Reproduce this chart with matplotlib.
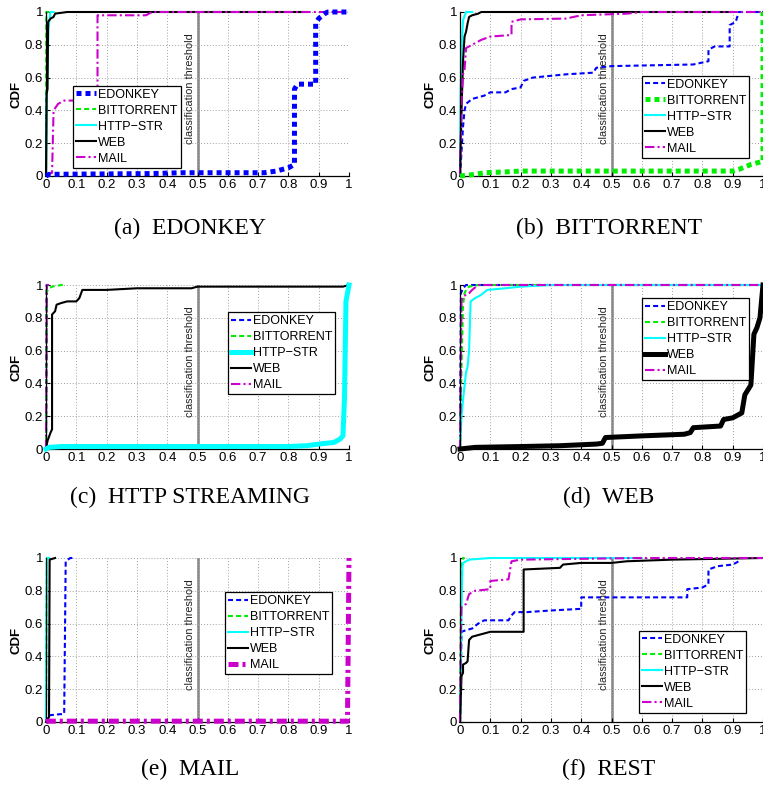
import matplotlib
matplotlib.use("Agg")
import matplotlib.pyplot as plt

# Nomes das classes e títulos dos painéis
classes = ["EDONKEY", "BITTORRENT", "HTTP\u2212STR", "WEB", "MAIL"]
legendas_painel = ["(a)  EDONKEY", "(b)  BITTORRENT", "(c)  HTTP STREAMING",
                   "(d)  WEB", "(e)  MAIL", "(f)  REST"]
# classe destacada (linha grossa) em cada painel; None = nenhuma
destaque = [0, 1, 2, 3, 4, None]

x_ticks = [0, 0.1, 0.2, 0.3, 0.4, 0.5, 0.6, 0.7, 0.8, 0.9, 1.0]
x_tick_labels = ["0", "0.1", "0.2", "0.3", "0.4", "0.5", "0.6", "0.7", "0.8", "0.9", "1"]
y_ticks = [0, 0.2, 0.4, 0.6, 0.8, 1.0]
y_tick_labels = ["0", "0.2", "0.4", "0.6", "0.8", "1"]
limiar = 0.5

# (a) EDONKEY -- pontos (x, CDF)
painel_a = {
    "EDONKEY": ([0, 0.01, 0.35, 0.45, 0.72, 0.76, 0.80, 0.82, 0.82, 0.83, 0.89, 0.89, 0.90, 0.92, 0.93, 1.0],
                [0, 0.01, 0.015, 0.02, 0.02, 0.03, 0.05, 0.07, 0.53, 0.56, 0.56, 0.93, 0.96, 0.99, 1.0, 1.0]),
    "BITTORRENT": ([0, 0.001, 0.01], [0, 1.0, 1.0]),
    "HTTP-STR": ([0, 0.003, 0.008, 0.015, 0.025], [0, 0.5, 0.9, 1.0, 1.0]),
    "WEB": ([0, 0.002, 0.005, 0.007, 0.015, 0.025, 0.03, 0.07, 0.85],
            [0, 0.5, 0.53, 0.94, 0.96, 0.97, 0.99, 1.0, 1.0]),
    "MAIL": ([0, 0.02, 0.025, 0.04, 0.06, 0.17, 0.17, 0.33, 0.35, 1.0],
             [0, 0.02, 0.40, 0.44, 0.46, 0.46, 0.98, 0.98, 1.0, 1.0]),
}

# (b) BITTORRENT
painel_b = {
    "EDONKEY": ([0, 0.005, 0.01, 0.015, 0.02, 0.04, 0.08, 0.10, 0.15, 0.17, 0.20, 0.21, 0.24, 0.35,
                 0.44, 0.45, 0.50, 0.77, 0.82, 0.82, 0.84, 0.89, 0.89, 0.91, 0.92, 1.0],
                [0, 0.15, 0.30, 0.40, 0.44, 0.47, 0.49, 0.51, 0.51, 0.53, 0.54, 0.58, 0.60, 0.62,
                 0.63, 0.66, 0.67, 0.68, 0.70, 0.77, 0.79, 0.79, 0.92, 0.94, 1.0, 1.0]),
    "BITTORRENT": ([0, 0.05, 0.08, 0.15, 0.20, 0.90, 0.92, 0.96, 1.0, 1.0],
                   [0, 0.01, 0.02, 0.025, 0.03, 0.03, 0.04, 0.07, 0.09, 1.0]),
    "HTTP-STR": ([0, 0.002, 0.006, 0.01, 0.02, 0.04], [0, 0.5, 0.8, 0.95, 1.0, 1.0]),
    "WEB": ([0, 0.005, 0.01, 0.015, 0.02, 0.025, 0.03, 0.04, 0.06, 0.07, 0.90],
            [0, 0.40, 0.70, 0.85, 0.88, 0.93, 0.97, 0.98, 0.99, 1.0, 1.0]),
    "MAIL": ([0, 0.005, 0.01, 0.015, 0.02, 0.04, 0.07, 0.10, 0.17, 0.17, 0.20, 0.35, 0.40, 0.55, 0.60, 1.0],
             [0, 0.45, 0.62, 0.65, 0.78, 0.80, 0.83, 0.85, 0.86, 0.94, 0.955, 0.96, 0.98, 0.99, 1.0, 1.0]),
}

# (c) HTTP STREAMING
painel_c = {
    "EDONKEY": ([0, 0.002, 0.01], [0, 1.0, 1.0]),
    "BITTORRENT": ([0, 0.003, 0.01, 0.02, 0.05, 0.06], [0, 0.96, 0.98, 0.99, 1.0, 1.0]),
    "HTTP-STR": ([0, 0.01, 0.05, 0.80, 0.86, 0.90, 0.95, 0.97, 0.98, 0.985, 0.99, 0.995, 1.0],
                 [0, 0.01, 0.015, 0.015, 0.02, 0.03, 0.04, 0.06, 0.08, 0.30, 0.90, 0.95, 1.0]),
    "WEB": ([0, 0.005, 0.015, 0.02, 0.02, 0.03, 0.035, 0.05, 0.07, 0.10, 0.11, 0.12, 0.20, 0.30,
             0.48, 0.50, 0.90, 0.98, 1.0],
            [0, 0.05, 0.10, 0.12, 0.82, 0.84, 0.88, 0.89, 0.90, 0.90, 0.92, 0.97, 0.97, 0.98,
             0.98, 0.99, 0.99, 0.99, 1.0]),
    "MAIL": ([0, 0.003, 0.01], [0, 1.0, 1.0]),
}

# (d) WEB
painel_d = {
    "EDONKEY": ([0, 0.003, 0.01, 0.02, 1.0], [0, 0.95, 0.98, 1.0, 1.0]),
    "BITTORRENT": ([0, 0.005, 0.01, 0.015, 0.02, 0.03, 0.06, 1.0],
                   [0, 0.50, 0.88, 0.95, 0.97, 0.99, 1.0, 1.0]),
    "HTTP-STR": ([0, 0.005, 0.01, 0.02, 0.025, 0.03, 0.035, 0.05, 0.07, 0.09, 0.15, 0.20, 0.30, 1.0],
                 [0, 0.20, 0.30, 0.47, 0.50, 0.60, 0.90, 0.92, 0.94, 0.97, 0.98, 0.99, 1.0, 1.0]),
    "WEB": ([0, 0.05, 0.20, 0.33, 0.45, 0.47, 0.48, 0.60, 0.74, 0.76, 0.77, 0.86, 0.87, 0.90,
             0.93, 0.94, 0.95, 0.96, 0.97, 0.98, 0.99, 1.0],
            [0, 0.01, 0.015, 0.02, 0.03, 0.035, 0.07, 0.08, 0.09, 0.10, 0.13, 0.14, 0.18, 0.19,
             0.22, 0.33, 0.36, 0.39, 0.70, 0.74, 0.80, 1.0]),
    "MAIL": ([0, 0.005, 0.01, 0.03, 0.04, 0.06, 1.0], [0, 0.90, 0.93, 0.95, 0.97, 1.0, 1.0]),
}

# (e) MAIL
painel_e = {
    "EDONKEY": ([0, 0.005, 0.06, 0.065, 0.08, 0.09], [0, 0.04, 0.05, 0.98, 1.0, 1.0]),
    "BITTORRENT": ([0, 0.003, 0.01], [0, 1.0, 1.0]),
    "HTTP-STR": ([0, 0.003, 0.01], [0, 1.0, 1.0]),
    "WEB": ([0, 0.01, 0.012, 0.03], [0, 0.03, 0.99, 1.0]),
    "MAIL": ([0, 0.005, 0.995, 1.0], [0, 0.005, 0.005, 1.0]),
}

# (f) REST
painel_f = {
    "EDONKEY": ([0, 0.005, 0.02, 0.04, 0.06, 0.08, 0.16, 0.17, 0.18, 0.22, 0.30, 0.40, 0.40, 0.75,
                 0.75, 0.80, 0.82, 0.82, 0.85, 0.90, 0.92],
                [0, 0.55, 0.56, 0.57, 0.60, 0.62, 0.62, 0.65, 0.67, 0.67, 0.68, 0.69, 0.76, 0.76,
                 0.81, 0.82, 0.84, 0.93, 0.95, 0.96, 0.98]),
    "BITTORRENT": ([0, 0.003, 0.005, 0.01, 0.015], [0, 0.70, 0.95, 1.0, 1.0]),
    "HTTP-STR": ([0, 0.003, 0.005, 0.008, 0.01, 0.03, 0.10, 0.60], [0, 0.30, 0.70, 0.95, 0.97, 0.99, 1.0, 1.0]),
    "WEB": ([0, 0.005, 0.01, 0.01, 0.02, 0.025, 0.03, 0.04, 0.06, 0.10, 0.21, 0.21, 0.33, 0.34,
             0.40, 0.50, 0.55, 0.70, 0.85, 1.0],
            [0, 0.28, 0.30, 0.35, 0.36, 0.37, 0.50, 0.52, 0.53, 0.55, 0.55, 0.93, 0.94, 0.96,
             0.97, 0.97, 0.98, 0.99, 0.995, 1.0]),
    "MAIL": ([0, 0.003, 0.005, 0.02, 0.03, 0.05, 0.10, 0.10, 0.16, 0.17, 0.20, 0.60, 1.0],
             [0, 0.55, 0.70, 0.72, 0.78, 0.80, 0.81, 0.86, 0.87, 0.98, 0.99, 1.0, 1.0]),
}

paineis = [painel_a, painel_b, painel_c, painel_d, painel_e, painel_f]
chaves = ["EDONKEY", "BITTORRENT", "HTTP-STR", "WEB", "MAIL"]

cores = ["#0000FF", "#00EE00", "#00FFFF", "#000000", "#CC00CC"]
estilo_fino = [(0, (2.4, 1.5)), (0, (2.4, 1.5)), "-", "-", (0, (4.5, 1.5, 1.0, 1.5))]
estilo_grosso = [(0, (1.0, 0.8)), (0, (1.0, 0.8)), "-", "-", (0, (2.0, 0.8, 0.6, 0.8))]

# posição das legendas (canto inferior esquerdo, coords. dos eixos)
pos_legenda = [(0.09, 0.05), (0.60, 0.11), (0.60, 0.335),
               (0.60, 0.42), (0.59, 0.29), (0.59, 0.055)]

# posições dos eixos em pixels: (esquerda, y do zero a partir do topo)
largura_px, altura_px = 763, 787
ax_esq = [46, 460]
ax_base = [176, 449, 722]
ax_w, ax_h = 303, 164
titulos_y = [228, 497, 769]
titulos_x = [190, 609]

plt.rcParams["font.family"] = ["Liberation Sans", "DejaVu Sans"]

fig = plt.figure(figsize=(largura_px / 100, altura_px / 100), dpi=100)

for i, dados in enumerate(paineis):
    lin, col = divmod(i, 2)
    esq = ax_esq[col] / largura_px
    base = 1 - ax_base[lin] / altura_px
    ax = fig.add_axes([esq, base, ax_w / largura_px, ax_h / altura_px])

    ax.set_xlim(0, 1)
    ax.set_ylim(0, 1)
    ax.set_xticks(x_ticks)
    ax.set_xticklabels(x_tick_labels)
    ax.set_yticks(y_ticks)
    ax.set_yticklabels(y_tick_labels)
    ax.tick_params(direction="in", length=3, labelsize=9.5, pad=2, width=0.8)
    ax.grid(True, linestyle=(0, (1, 2)), color="#A0A0A0", linewidth=0.7)
    for lado in ["top", "right"]:
        ax.spines[lado].set_visible(False)
    for lado in ["left", "bottom"]:
        ax.spines[lado].set_linewidth(0.9)
    ax.set_ylabel("CDF", fontsize=9.5, fontweight="bold", labelpad=2)

    ax.axvline(limiar, color="#808080", linewidth=1.8, zorder=1.5)
    ax.text(limiar - 0.008, 0.535, "classification threshold", rotation=90,
            transform=ax.get_xaxis_transform(), ha="right", va="center", fontsize=7.8,
            color="#222222")

    for k, chave in enumerate(chaves):
        xs, ys = dados[chave]
        grosso = destaque[i] == k
        ax.plot(xs, ys, color=cores[k],
                linestyle=estilo_grosso[k] if grosso else estilo_fino[k],
                linewidth=3.6 if grosso else 1.5,
                label=classes[k], clip_on=False, zorder=3 if grosso else 2.5)

    leg = ax.legend(loc="lower left", bbox_to_anchor=pos_legenda[i], fontsize=9,
                    frameon=True, fancybox=False, edgecolor="black", framealpha=1,
                    handlelength=1.6, handletextpad=0.15, labelspacing=0.32,
                    borderpad=0.25, borderaxespad=0)
    leg.get_frame().set_linewidth(0.9)

    fig.text(titulos_x[col] / largura_px, 1 - titulos_y[lin] / altura_px, legendas_painel[i],
             ha="center", va="center", fontsize=17,
             family=["Liberation Serif", "DejaVu Serif"])

fig.savefig("out.png", dpi=100)
